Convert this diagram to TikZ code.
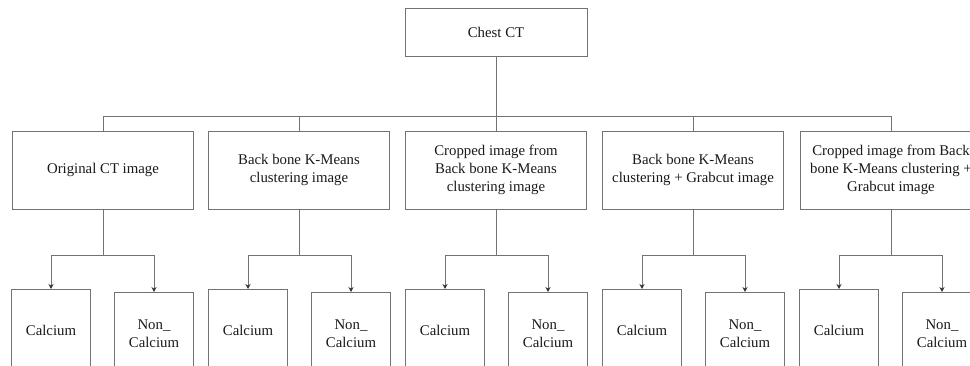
\documentclass[tikz,border=0pt]{standalone}
\usepackage{fontspec}
\setmainfont{Liberation Serif}
\usetikzlibrary{shapes, arrows, arrows.meta, positioning}

\begin{document}
\begin{tikzpicture}[x=1pt, y=-1pt]
        \tikzstyle{every node}=[align=center, font=\fontsize{14.8}{18}\selectfont, text=black!90]
        \tikzstyle{box}=[draw=black!55, line width=0.8pt, inner sep=2pt]
        \tikzstyle{method}=[box, minimum width=181pt, minimum height=78pt]
        \tikzstyle{leaf}=[box, minimum width=79pt, minimum height=82pt, anchor=north]
        \tikzstyle{wire}=[draw=black!55, line width=0.8pt]
        \useasboundingbox (0,0) rectangle (970,366);
        \clip (0,0) rectangle (970,366);

        \node[box, minimum width=182pt, minimum height=48pt] at (496, 32) (chest) {Chest CT};
        \coordinate (bus) at (0, 116);

        \node[method] at (103, 170) (m1) {Original CT image};
        \node[method] at (299, 170) (m2) {Back bone K-Means\\clustering image};
        \node[method] at (496, 170) (m3) {Cropped image from\\Back bone K-Means\\clustering image};
        \node[method] at (693, 170) (m4) {Back bone K-Means\\clustering + Grabcut image};
        \node[method] at (891, 170) (m5) {Cropped image from Back\\bone K-Means clustering +\\Grabcut image};

        \node[leaf] at (51, 289) (c1) {Calcium};
        \node[leaf] at (154, 292) (n1) {Non\_\\Calcium};
        \node[leaf] at (248, 289) (c2) {Calcium};
        \node[leaf] at (351, 292) (n2) {Non\_\\Calcium};
        \node[leaf] at (445, 289) (c3) {Calcium};
        \node[leaf] at (548, 292) (n3) {Non\_\\Calcium};
        \node[leaf] at (642, 289) (c4) {Calcium};
        \node[leaf] at (745, 292) (n4) {Non\_\\Calcium};
        \node[leaf] at (839, 289) (c5) {Calcium};
        \node[leaf] at (942, 292) (n5) {Non\_\\Calcium};

        \draw[wire] (chest.south) -- (chest.south |- bus);
        \draw[wire] (m1.north) -- (m1.north |- bus) -- (m5.north |- bus) -- (m5.north);
        \foreach \i in {2,3,4} \draw[wire] (m\i.north) -- (m\i.north |- bus);

        \foreach \i in {1,...,5} {
            \draw[wire] (m\i.south) -- ++(0, 46) coordinate (split\i);
            \draw[wire, >={Stealth[length=5pt, width=5pt, black!80]}, ->] (split\i) -| (c\i.north);
            \draw[wire, >={Stealth[length=5pt, width=5pt, black!80]}, ->] (split\i) -| (n\i.north);
        }
\end{tikzpicture}
\end{document}
